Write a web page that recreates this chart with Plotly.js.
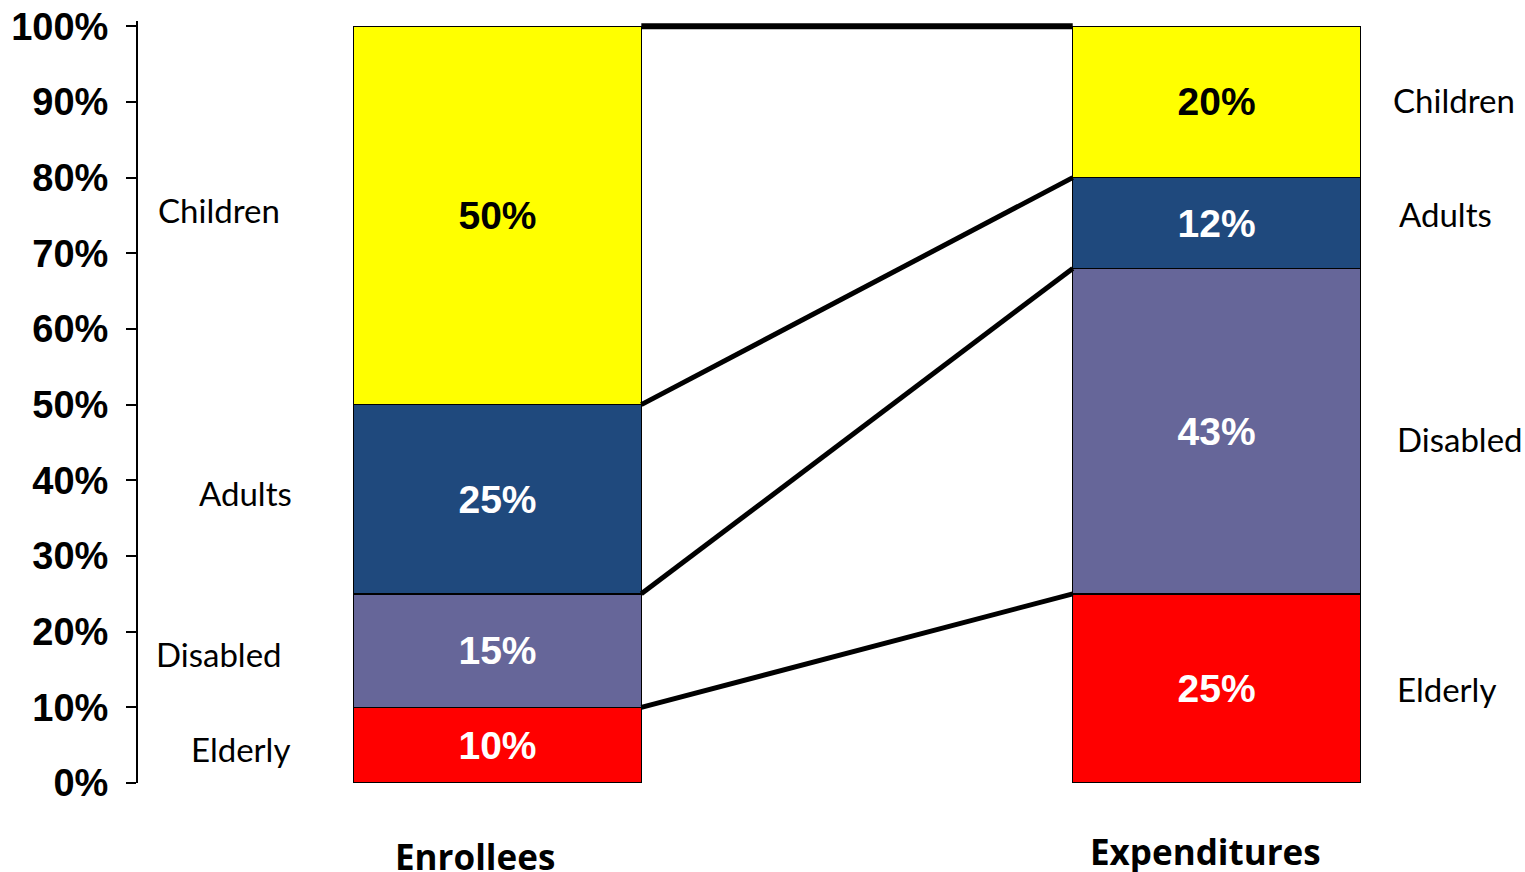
<!DOCTYPE html>
<html>
<head>
<meta charset="utf-8">
<script src="https://cdn.plot.ly/plotly-3.0.1.min.js"></script>
<style>html,body{margin:0;padding:0;background:#fff;}#chart{width:1525px;height:872px;}</style>
</head>
<body>
<div id="chart"></div>
<script>
// ---- data ----
const categories = ['Enrollees', 'Expenditures'];
const groups = ['Elderly', 'Disabled', 'Adults', 'Children'];
const enrollees = [10, 15, 25, 50];
const expenditures = [25, 43, 12, 20];
const tickValues = [0, 10, 20, 30, 40, 50, 60, 70, 80, 90, 100];
const tickLabels = ['0%', '10%', '20%', '30%', '40%', '50%', '60%', '70%', '80%', '90%', '100%'];

// ---- style ----
const colors = ['#FF0000', '#666699', '#1F497D', '#FFFF00'];
const textColors = ['#FFFFFF', '#FFFFFF', '#FFFFFF', '#000000'];
const barWidth = 0.4;
const leftLabelShift = [102, 81, 107, 81];   // px from plot left edge (label centre)
const leftLabelLift = [-4, -3, 6, 5];
const rightLabelShift = [35, 35, 37, 31];    // px from right bar edge (label left)
const rightLabelLift = [-1, -8, 9, 2];
const boldFont = 'Arial, "Liberation Sans", sans-serif';
const labelFont = 'Lato, Calibri, sans-serif';
const catFont = '"Open Sans", Calibri, sans-serif';

const xPos = categories.map((c, i) => i);
const traces = [];
groups.forEach((g, i) => {
  const vals = [enrollees[i], expenditures[i]];
  traces.push({
    type: 'bar',
    name: g,
    x: xPos,
    y: vals,
    text: vals.map(v => v + '%'),
    texttemplate: '%{text}',
    width: barWidth,
    marker: {color: colors[i], line: {color: '#000', width: 1.5}},
    textposition: 'inside',
    insidetextanchor: 'middle',
    textangle: 0,
    constraintext: 'none',
    textfont: {family: boldFont, size: 39, weight: 'bold', color: textColors[i]},
    hoverinfo: 'skip'
  });
});

function cumulative(arr) {
  let s = 0;
  return arr.map(v => (s += v));
}
const cumE = cumulative(enrollees);
const cumX = cumulative(expenditures);

// connector lines between the tops of each segment
for (let i = 0; i < groups.length; i++) {
  traces.push({
    type: 'scatter',
    mode: 'lines',
    x: [xPos[0] + barWidth / 2, xPos[1] - barWidth / 2],
    y: [cumE[i], cumX[i]],
    line: {color: '#000', width: i === groups.length - 1 ? 6 : 5},
    cliponaxis: false,
    hoverinfo: 'skip',
    showlegend: false
  });
}

const annotations = [];
groups.forEach((g, i) => {
  annotations.push({
    xref: 'x', yref: 'y',
    x: -0.5, y: cumE[i] - enrollees[i] / 2,
    xshift: leftLabelShift[i], yshift: leftLabelLift[i],
    text: g, showarrow: false, xanchor: 'center', yanchor: 'middle',
    font: {family: labelFont, size: 33, color: '#000'}
  });
  annotations.push({
    xref: 'x', yref: 'y',
    x: xPos[1] + barWidth / 2, y: cumX[i] - expenditures[i] / 2,
    xshift: rightLabelShift[i], yshift: rightLabelLift[i],
    text: g, showarrow: false, xanchor: 'left', yanchor: 'middle',
    font: {family: labelFont, size: 33, color: '#000'}
  });
});
const catShift = [[-23, -73], [-11, -68]];
categories.forEach((c, i) => {
  annotations.push({
    xref: 'x', yref: 'paper',
    x: xPos[i], y: 0,
    xshift: catShift[i][0], yshift: catShift[i][1],
    text: '<b>' + c + '</b>', showarrow: false, xanchor: 'center', yanchor: 'middle',
    font: {family: catFont, size: 35, color: '#000'}
  });
});

const layout = {
  width: 1525, height: 872,
  margin: {l: 138, r: 0, t: 21, b: 89},
  paper_bgcolor: '#fff', plot_bgcolor: '#fff',
  barmode: 'stack',
  showlegend: false,
  hovermode: false,
  xaxis: {range: [-0.5, 1.429], visible: false, fixedrange: true},
  yaxis: {
    range: [0, 100.7], tickmode: 'array', tickvals: tickValues, ticktext: tickLabels,
    showgrid: false, zeroline: false,
    showline: true, linecolor: '#000', linewidth: 2,
    ticks: 'outside', ticklen: 10, tickwidth: 2, tickcolor: '#000',
    ticklabelstandoff: 10,
    tickfont: {family: boldFont, size: 38, weight: 'bold', color: '#000'},
    fixedrange: true
  },
  annotations: annotations
};

Plotly.newPlot('chart', traces, layout, {displayModeBar: false, staticPlot: true});
</script>
</body>
</html>
